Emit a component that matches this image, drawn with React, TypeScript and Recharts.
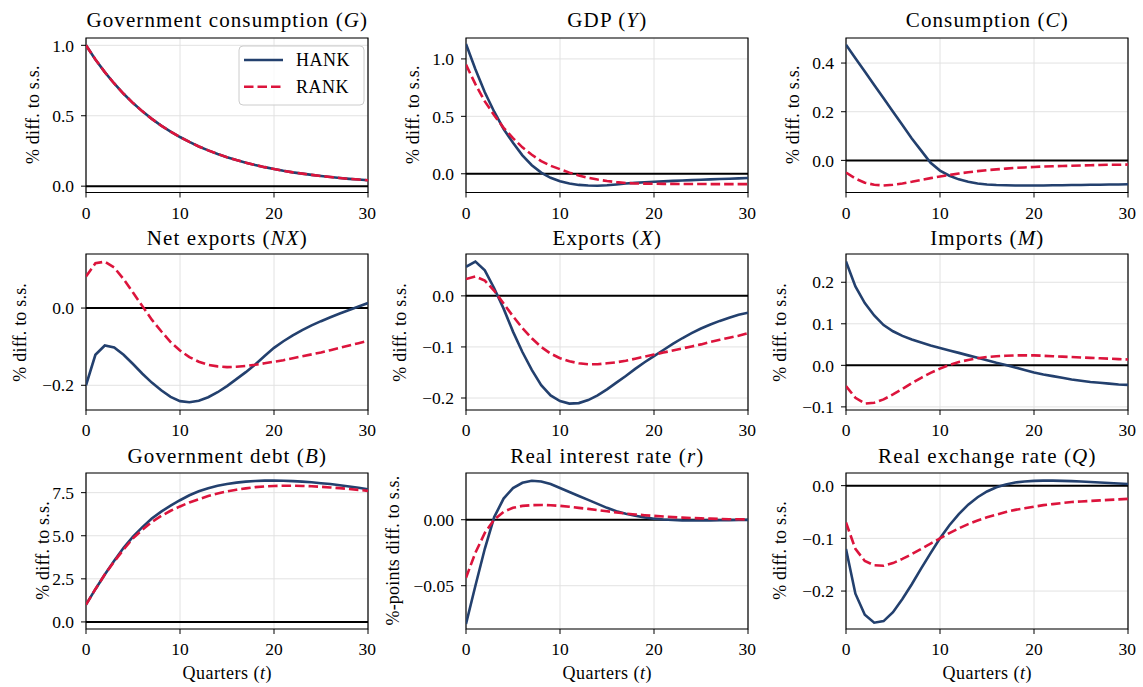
import React from "react";
import {
  LineChart,
  Line,
  XAxis,
  YAxis,
  CartesianGrid,
  ReferenceLine,
  ReferenceArea,
} from "recharts";

const quarters = [0, 1, 2, 3, 4, 5, 6, 7, 8, 9, 10, 11, 12, 13, 14, 15, 16, 17, 18, 19, 20, 21, 22, 23, 24, 25, 26, 27, 28, 29, 30];
const xTicks = [0, 10, 20, 30];

const govConsHank = [1.0, 0.9, 0.81, 0.729, 0.656, 0.59, 0.531, 0.478, 0.43, 0.387, 0.349, 0.314, 0.282, 0.254, 0.229, 0.206, 0.185, 0.167, 0.15, 0.135, 0.122, 0.109, 0.098, 0.089, 0.08, 0.072, 0.065, 0.058, 0.052, 0.047, 0.042];
const govConsRank = [1.0, 0.9, 0.81, 0.729, 0.656, 0.59, 0.531, 0.478, 0.43, 0.387, 0.349, 0.314, 0.282, 0.254, 0.229, 0.206, 0.185, 0.167, 0.15, 0.135, 0.122, 0.109, 0.098, 0.089, 0.08, 0.072, 0.065, 0.058, 0.052, 0.047, 0.042];

const gdpHank = [1.13, 0.91, 0.71, 0.54, 0.39, 0.27, 0.16, 0.075, 0.01, -0.035, -0.065, -0.085, -0.097, -0.102, -0.104, -0.1, -0.093, -0.085, -0.079, -0.074, -0.07, -0.066, -0.062, -0.058, -0.055, -0.052, -0.049, -0.046, -0.043, -0.04, -0.037];
const gdpRank = [0.95, 0.78, 0.63, 0.51, 0.4, 0.31, 0.23, 0.165, 0.11, 0.07, 0.04, 0.01, -0.015, -0.035, -0.05, -0.063, -0.073, -0.08, -0.084, -0.086, -0.087, -0.088, -0.088, -0.089, -0.089, -0.089, -0.09, -0.09, -0.09, -0.09, -0.09];

const consHank = [0.475, 0.42, 0.365, 0.31, 0.255, 0.2, 0.145, 0.09, 0.04, -0.01, -0.042, -0.063, -0.078, -0.088, -0.095, -0.099, -0.101, -0.102, -0.103, -0.103, -0.103, -0.103, -0.102, -0.102, -0.101, -0.101, -0.1, -0.1, -0.099, -0.099, -0.098];
const consRank = [-0.05, -0.075, -0.092, -0.1, -0.103, -0.1, -0.095, -0.088, -0.08, -0.073, -0.066, -0.06, -0.054, -0.049, -0.044, -0.04, -0.037, -0.034, -0.031, -0.029, -0.027, -0.025, -0.024, -0.023, -0.022, -0.021, -0.02, -0.019, -0.018, -0.018, -0.017];

const nxHank = [-0.2, -0.121, -0.097, -0.102, -0.121, -0.145, -0.17, -0.193, -0.213, -0.23, -0.241, -0.244, -0.24, -0.231, -0.218, -0.202, -0.184, -0.166, -0.146, -0.124, -0.103, -0.086, -0.071, -0.057, -0.045, -0.034, -0.024, -0.014, -0.005, 0.004, 0.013];
const nxRank = [0.082, 0.116, 0.12, 0.105, 0.075, 0.04, 0.005, -0.03, -0.06, -0.088, -0.11, -0.127, -0.139, -0.147, -0.151, -0.153, -0.152, -0.15, -0.147, -0.143, -0.139, -0.135, -0.13, -0.125, -0.12, -0.115, -0.109, -0.103, -0.097, -0.091, -0.085];

const expHank = [0.057, 0.067, 0.05, 0.015, -0.025, -0.07, -0.11, -0.145, -0.175, -0.195, -0.206, -0.211, -0.21, -0.204, -0.195, -0.183, -0.17, -0.157, -0.143, -0.13, -0.118, -0.106, -0.094, -0.083, -0.073, -0.064, -0.056, -0.049, -0.043, -0.037, -0.033];
const expRank = [0.033, 0.038, 0.03, 0.01, -0.015, -0.04, -0.063, -0.083, -0.1, -0.113, -0.122, -0.128, -0.132, -0.134, -0.134, -0.132, -0.13, -0.127, -0.123, -0.119, -0.115, -0.111, -0.107, -0.103, -0.099, -0.095, -0.09, -0.086, -0.082, -0.078, -0.073];

const impHank = [0.25, 0.19, 0.15, 0.12, 0.097, 0.082, 0.071, 0.062, 0.055, 0.048, 0.042, 0.036, 0.03, 0.024, 0.018, 0.012, 0.006, 0.001, -0.005, -0.011, -0.017, -0.022, -0.026, -0.03, -0.034, -0.037, -0.04, -0.042, -0.044, -0.046, -0.047];
const impRank = [-0.05, -0.078, -0.092, -0.09, -0.082, -0.07, -0.057, -0.043, -0.03, -0.018, -0.008, 0.001, 0.008, 0.013, 0.017, 0.02, 0.022, 0.023, 0.024, 0.024, 0.024, 0.023, 0.022, 0.021, 0.02, 0.019, 0.018, 0.017, 0.016, 0.015, 0.014];

const debtHank = [1.0, 1.9, 2.75, 3.55, 4.3, 4.95, 5.5, 6.0, 6.4, 6.75, 7.06, 7.35, 7.58, 7.76, 7.9, 8.0, 8.08, 8.14, 8.18, 8.2, 8.2, 8.19, 8.17, 8.14, 8.1, 8.05, 8.0, 7.93, 7.86, 7.78, 7.7];
const debtRank = [1.0, 1.9, 2.75, 3.5, 4.2, 4.85, 5.35, 5.8, 6.15, 6.45, 6.7, 6.93, 7.12, 7.3, 7.45, 7.57, 7.67, 7.75, 7.82, 7.86, 7.89, 7.9, 7.9, 7.89, 7.87, 7.84, 7.8, 7.76, 7.71, 7.66, 7.6];

const rateHank = [-0.079, -0.05, -0.022, 0.002, 0.016, 0.024, 0.028, 0.0295, 0.029, 0.027, 0.024, 0.021, 0.018, 0.015, 0.012, 0.009, 0.0065, 0.0045, 0.003, 0.0018, 0.0008, 0.0002, -0.0002, -0.0005, -0.0006, -0.0006, -0.0005, -0.0004, -0.0003, -0.0002, -0.0001];
const rateRank = [-0.044, -0.025, -0.01, 0.0, 0.006, 0.009, 0.0105, 0.011, 0.0112, 0.011, 0.0105, 0.0098, 0.009, 0.0082, 0.0073, 0.0064, 0.0055, 0.0047, 0.004, 0.0034, 0.0029, 0.0024, 0.002, 0.0016, 0.0013, 0.001, 0.0008, 0.0006, 0.0004, 0.0003, 0.0002];

const rerHank = [-0.12, -0.205, -0.245, -0.26, -0.257, -0.24, -0.215, -0.187, -0.157, -0.128, -0.1, -0.075, -0.054, -0.036, -0.022, -0.011, -0.003, 0.002, 0.006, 0.008, 0.009, 0.0095, 0.0095, 0.009, 0.0085, 0.008, 0.007, 0.006, 0.005, 0.004, 0.003];
const rerRank = [-0.07, -0.12, -0.143, -0.151, -0.152, -0.147, -0.139, -0.13, -0.12, -0.11, -0.1, -0.09, -0.081, -0.073, -0.066, -0.06, -0.055, -0.05, -0.046, -0.043, -0.04, -0.037, -0.035, -0.033, -0.031, -0.03, -0.029, -0.028, -0.027, -0.026, -0.025];

const BLUE = "#23406e";
const RED = "#dc143c";
const FONT = "'Liberation Serif', 'DejaVu Serif', serif";
const LW = 2.6;
const DASH = "9.5 4";

const colLeft = [86.3, 466.3, 846.3];
const rowTop = [37.5, 254.3, 472.5];
const rowHeight = [154.5, 156, 156];
const PW = 282;
const ML = 70;
const MT = 6;
const MR = 8;
const XH = 32;

type PanelDef = {
  name: string;
  sym: string;
  ylabel: string;
  hank: number[];
  rank: number[];
  domain: [number, number];
  ticks: number[];
  digits: number;
  labelX: number;
};

const panels: PanelDef[] = [
  { name: "Government consumption", sym: "G", ylabel: "% diff. to s.s.", hank: govConsHank, rank: govConsRank, domain: [-0.045, 1.052], ticks: [0, 0.5, 1], digits: 1, labelX: 33 },
  { name: "GDP", sym: "Y", ylabel: "% diff. to s.s.", hank: gdpHank, rank: gdpRank, domain: [-0.163, 1.182], ticks: [0, 0.5, 1], digits: 1, labelX: 413 },
  { name: "Consumption", sym: "C", ylabel: "% diff. to s.s.", hank: consHank, rank: consRank, domain: [-0.132, 0.503], ticks: [0, 0.2, 0.4], digits: 1, labelX: 793 },
  { name: "Net exports", sym: "NX", ylabel: "% diff. to s.s.", hank: nxHank, rank: nxRank, domain: [-0.264, 0.14], ticks: [-0.2, 0], digits: 1, labelX: 20 },
  { name: "Exports", sym: "X", ylabel: "% diff. to s.s.", hank: expHank, rank: expRank, domain: [-0.2235, 0.082], ticks: [-0.2, -0.1, 0], digits: 1, labelX: 400 },
  { name: "Imports", sym: "M", ylabel: "% diff. to s.s.", hank: impHank, rank: impRank, domain: [-0.1075, 0.268], ticks: [-0.1, 0, 0.1, 0.2], digits: 1, labelX: 780 },
  { name: "Government debt", sym: "B", ylabel: "% diff. to s.s.", hank: debtHank, rank: debtRank, domain: [-0.41, 8.64], ticks: [0, 2.5, 5, 7.5], digits: 1, labelX: 43 },
  { name: "Real interest rate", sym: "r", ylabel: "%-points diff. to s.s.", hank: rateHank, rank: rateRank, domain: [-0.0828, 0.0354], ticks: [-0.05, 0], digits: 2, labelX: 393 },
  { name: "Real exchange rate", sym: "Q", ylabel: "% diff. to s.s.", hank: rerHank, rank: rerRank, domain: [-0.272, 0.024], ticks: [-0.2, -0.1, 0], digits: 1, labelX: 780 },
];

const tickStyle = { fill: "#000", fontSize: 17.5, fontFamily: FONT };

function Panel({ p, left, top, height }: { p: PanelDef; left: number; top: number; height: number }) {
  const data = quarters.map((t, i) => ({ t, hank: p.hank[i], rank: p.rank[i] }));
  const fmt = (v: number) => v.toFixed(p.digits).replace("-", "\u2212");
  return (
    <div style={{ position: "absolute", left: left - ML, top: top - MT }}>
      <LineChart
        width={ML + PW + MR}
        height={MT + height + XH}
        data={data}
        margin={{ top: MT, right: MR, left: 0, bottom: 0 }}
      >
        <CartesianGrid stroke="#e2e2e2" strokeWidth={1} />
        <XAxis
          dataKey="t"
          type="number"
          domain={[0, 30]}
          ticks={xTicks}
          allowDataOverflow
          axisLine={false}
          tickLine={{ stroke: "#000" }}
          tickSize={5}
          tickMargin={9}
          height={XH}
          tick={tickStyle}
        />
        <YAxis
          type="number"
          domain={p.domain}
          ticks={p.ticks}
          allowDataOverflow
          axisLine={false}
          tickLine={{ stroke: "#000" }}
          tickSize={5}
          tickMargin={7}
          width={ML}
          tick={tickStyle}
          tickFormatter={fmt}
        />
        <ReferenceLine y={0} stroke="#000" strokeWidth={2} />
        <Line type="linear" dataKey="hank" stroke={BLUE} strokeWidth={LW} dot={false} isAnimationActive={false} />
        <Line type="linear" dataKey="rank" stroke={RED} strokeWidth={LW} strokeDasharray={DASH} dot={false} isAnimationActive={false} />
        <ReferenceArea x1={0} x2={30} y1={p.domain[0]} y2={p.domain[1]} fill="none" fillOpacity={0} stroke="#000" strokeWidth={1.2} ifOverflow="visible" />
      </LineChart>
    </div>
  );
}

const titleBase = [26.7, 245, 463.3];

export default function App() {
  return (
    <div style={{ position: "absolute", left: 0, top: 0, width: 1143, height: 687, background: "#fff", overflow: "hidden" }}>
      {panels.map((p, i) => {
        const r = Math.floor(i / 3);
        const c = i % 3;
        return <Panel key={p.name} p={p} left={colLeft[c]} top={rowTop[r]} height={rowHeight[r]} />;
      })}
      <svg width={1143} height={687} style={{ position: "absolute", left: 0, top: 0, pointerEvents: "none" }} fontFamily={FONT}>
        {panels.map((p, i) => {
          const r = Math.floor(i / 3);
          const c = i % 3;
          const cx = colLeft[c] + PW / 2;
          const cy = rowTop[r] + rowHeight[r] / 2;
          return (
            <g key={p.name}>
              <text x={cx} y={titleBase[r]} textAnchor="middle" fontSize={21} letterSpacing={1.1} fill="#000">
                {p.name} (<tspan fontStyle="italic">{p.sym}</tspan>)
              </text>
              <text
                x={p.labelX + 6}
                y={cy}
                textAnchor="middle"
                fontSize={18}
                letterSpacing={0.2}
                fill="#000"
                transform={`rotate(-90 ${p.labelX + 6} ${cy})`}
              >
                {p.ylabel}
              </text>
              {r === 2 && (
                <text x={cx} y={679} textAnchor="middle" fontSize={18} letterSpacing={0.5} fill="#000">
                  Quarters (<tspan fontStyle="italic">t</tspan>)
                </text>
              )}
            </g>
          );
        })}
        <g>
          <rect x={239} y={46} width={125} height={59} rx={4} fill="#fff" fillOpacity={0.8} stroke="#cccccc" strokeWidth={1} />
          <line x1={244} y1={60} x2={283} y2={60} stroke={BLUE} strokeWidth={LW} />
          <line x1={244} y1={86.7} x2={283} y2={86.7} stroke={RED} strokeWidth={LW} strokeDasharray={DASH} />
          <text x={296} y={66} fontSize={18} letterSpacing={0.5} fill="#000">HANK</text>
          <text x={296} y={92.7} fontSize={18} letterSpacing={0.5} fill="#000">RANK</text>
        </g>
      </svg>
    </div>
  );
}
